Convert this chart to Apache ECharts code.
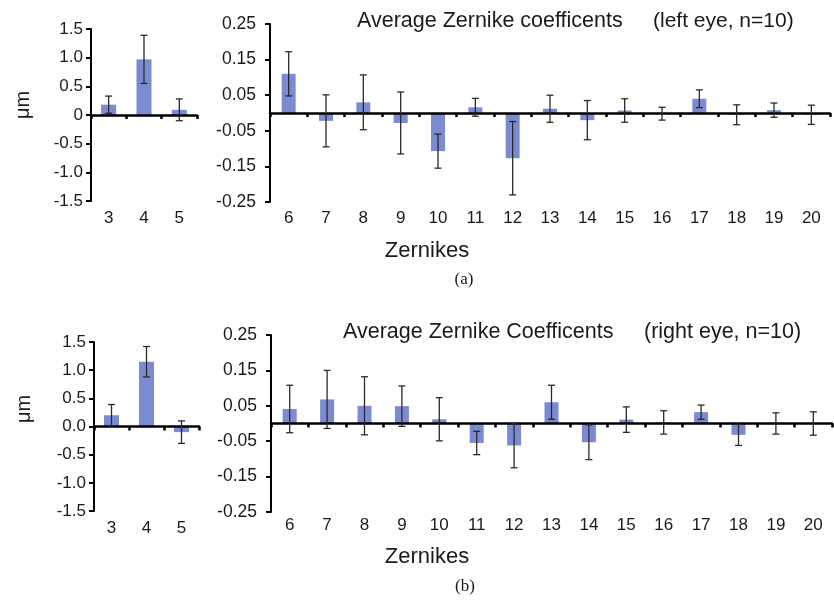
<!DOCTYPE html>
<html>
<head>
<meta charset="utf-8">
<script src="https://cdn.jsdelivr.net/npm/echarts@6/dist/echarts.min.js"></script>
<style>
html,body{margin:0;padding:0;background:#fff;}
#c{width:834px;height:600px;}
</style>
</head>
<body>
<div id="c"></div>
<script>
// ---- data ----
var lowOrderCats = ['3', '4', '5'];
var highOrderCats = ['6','7','8','9','10','11','12','13','14','15','16','17','18','19','20'];

var leftEyeLow = [0.18, 0.97, 0.09];
var leftEyeLowErr = [0.15, 0.42, 0.19];
var leftEyeHigh = [0.110, -0.022, 0.030, -0.028, -0.107, 0.016, -0.127, 0.012, -0.020, 0.007, -0.002, 0.040, -0.005, 0.008, -0.005];
var leftEyeHighErr = [0.062, 0.073, 0.077, 0.087, 0.048, 0.025, 0.103, 0.038, 0.055, 0.033, 0.018, 0.025, 0.028, 0.020, 0.027];

var rightEyeLow = [0.20, 1.15, -0.10];
var rightEyeLowErr = [0.19, 0.27, 0.20];
var rightEyeHigh = [0.041, 0.068, 0.050, 0.049, 0.012, -0.055, -0.062, 0.060, -0.053, 0.011, 0.003, 0.032, -0.032, 0.000, 0.000];
var rightEyeHighErr = [0.067, 0.082, 0.082, 0.057, 0.061, 0.033, 0.063, 0.048, 0.049, 0.036, 0.033, 0.020, 0.030, 0.030, 0.033];

var lowTicks = {min: -1.5, max: 1.5, interval: 0.5};
var highTicks = {min: -0.25, max: 0.25, interval: 0.1};

// ---- styling ----
var FONT = 'Liberation Sans, Arial, sans-serif';
var TXT = '#1a1a1a';
var BAR = '#7b8bd1';

var grids = [
  {left: 91, top: 29, width: 106, height: 172},
  {left: 270, top: 24, width: 560, height: 178},
  {left: 94, top: 342, width: 105, height: 169},
  {left: 271, top: 335, width: 561, height: 177}
];
grids.forEach(function(g){ g.outerBoundsMode = 'none'; g.containLabel = false; });

var panels = [
  {grid: 0, cats: lowOrderCats, vals: leftEyeLow, errs: leftEyeLowErr, ticks: lowTicks, zeroFmt: '0', barW: 15, xMargin: 9, yMargin: 8, yFont: 17},
  {grid: 1, cats: highOrderCats, vals: leftEyeHigh, errs: leftEyeHighErr, ticks: highTicks, barW: 14, xMargin: 8, yMargin: 14, yFont: 17.5},
  {grid: 2, cats: lowOrderCats, vals: rightEyeLow, errs: rightEyeLowErr, ticks: lowTicks, zeroFmt: '0.0', barW: 15, xMargin: 9, yMargin: 8, yFont: 17},
  {grid: 3, cats: highOrderCats, vals: rightEyeHigh, errs: rightEyeHighErr, ticks: highTicks, barW: 14, xMargin: 5, yMargin: 14, yFont: 17.5}
];

var xAxes = [], yAxes = [], series = [];
panels.forEach(function(p, k){
  // axis drawn at zero with ticks
  xAxes.push({
    type: 'category', gridIndex: p.grid, data: p.cats, position: 'bottom', z: 5,
    axisLine: {show: true, onZero: true, lineStyle: {color: '#000', width: 2.5}},
    axisTick: {show: true, inside: false, length: 4, lineStyle: {color: '#000', width: 2.5}},
    axisLabel: {show: false}, splitLine: {show: false}
  });
  // labels at bottom
  xAxes.push({
    type: 'category', gridIndex: p.grid, data: p.cats, position: 'bottom',
    axisLine: {show: false, onZero: false}, axisTick: {show: false},
    axisLabel: {show: true, margin: p.xMargin, color: TXT, fontFamily: FONT, fontSize: 17},
    splitLine: {show: false}
  });
  var isLow = p.ticks === lowTicks;
  yAxes.push({
    type: 'value', gridIndex: p.grid, min: p.ticks.min, max: p.ticks.max, interval: p.ticks.interval,
    axisLine: {show: true, lineStyle: {color: '#000', width: 2}},
    axisTick: {show: true, inside: false, length: 5, lineStyle: {color: '#000', width: 2}},
    splitLine: {show: false},
    axisLabel: {
      margin: p.yMargin, color: TXT, fontFamily: FONT, fontSize: p.yFont,
      formatter: function(v){
        if (isLow) {
          if (Math.abs(v) < 1e-9) return p.zeroFmt;
          return v.toFixed(1);
        }
        return v.toFixed(2);
      }
    }
  });
  var xi = k * 2, yi = k;
  series.push({
    type: 'bar', xAxisIndex: xi, yAxisIndex: yi, data: p.vals, barWidth: p.barW,
    itemStyle: {color: BAR}, z: 2, silent: true
  });
  series.push({
    type: 'custom', xAxisIndex: xi, yAxisIndex: yi, z: 6, silent: true,
    data: p.vals.map(function(v, i){ return [i, v, p.errs[i]]; }),
    encode: {x: 0, y: 1},
    renderItem: function(params, api){
      var i = api.value(0), v = api.value(1), e = api.value(2);
      var hi = api.coord([i, v + e]);
      var lo = api.coord([i, v - e]);
      var hw = 3.5;
      var st = {stroke: '#2a2a2a', lineWidth: 1.3};
      return {
        type: 'group',
        children: [
          {type: 'line', shape: {x1: hi[0], y1: hi[1], x2: lo[0], y2: lo[1]}, style: st},
          {type: 'line', shape: {x1: hi[0]-hw, y1: hi[1], x2: hi[0]+hw, y2: hi[1]}, style: st},
          {type: 'line', shape: {x1: lo[0]-hw, y1: lo[1], x2: lo[0]+hw, y2: lo[1]}, style: st}
        ]
      };
    }
  });
});

function txt(text, x, y, size, opts){
  opts = opts || {};
  return {
    type: 'text', x: x, y: y, rotation: opts.rotation || 0, z: 10,
    style: {
      text: text, fill: TXT, fontFamily: opts.family || FONT, fontSize: size,
      align: opts.align || 'left', verticalAlign: 'middle'
    }
  };
}

var graphics = [
  txt('Average Zernike coefficents', 357, 21, 21.5),
  txt('(left eye, n=10)', 653, 21, 21),
  txt('Zernikes', 427, 251, 22, {align: 'center'}),
  txt('(a)', 464, 280, 17, {align: 'center', family: 'Liberation Serif, Times New Roman, serif'}),
  txt('\u03bcm', 23, 105, 20, {align: 'center', rotation: Math.PI / 2}),
  txt('Average Zernike Coefficents', 343, 332, 21.5),
  txt('(right eye, n=10)', 644, 332, 21.5),
  txt('Zernikes', 427, 557, 22, {align: 'center'}),
  txt('(b)', 465, 587, 17, {align: 'center', family: 'Liberation Serif, Times New Roman, serif'}),
  txt('\u03bcm', 24, 409, 20, {align: 'center', rotation: Math.PI / 2})
];

var chart = echarts.init(document.getElementById('c'), null, {renderer: 'canvas'});
chart.setOption({
  backgroundColor: '#ffffff',
  animation: false,
  grid: grids,
  xAxis: xAxes,
  yAxis: yAxes,
  series: series,
  graphic: graphics
});
</script>
</body>
</html>
